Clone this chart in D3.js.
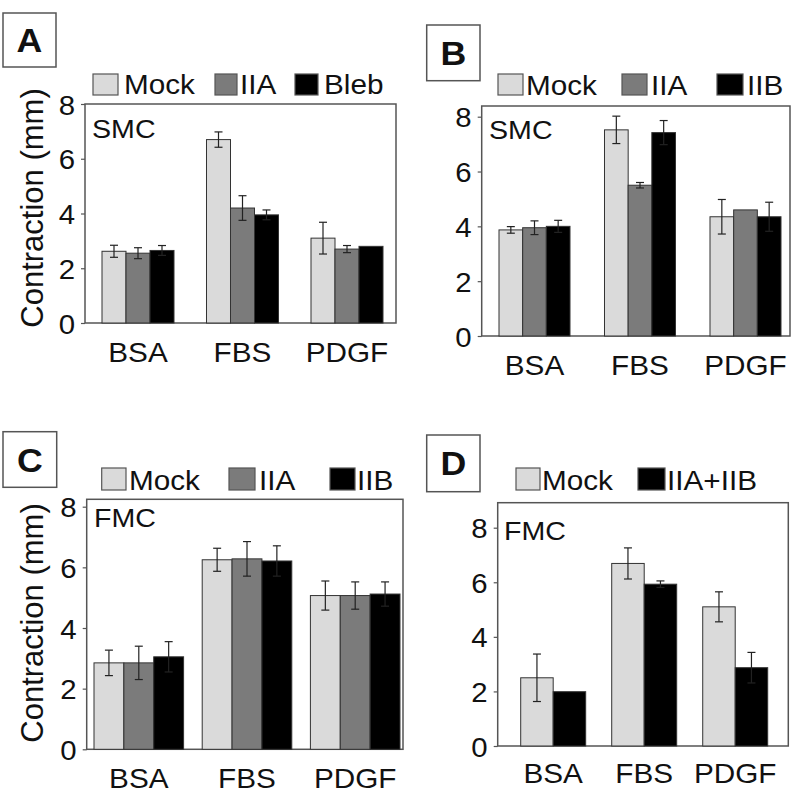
<!DOCTYPE html>
<html><head><meta charset="utf-8">
<script src="https://cdn.jsdelivr.net/npm/d3@7"></script>
<style>body{margin:0;background:#fff}svg{display:block}</style>
</head><body>
<svg id="c" width="800" height="800"></svg>
<script>
// ---- data ----
const categories = ["BSA", "FBS", "PDGF"];
const yTicks = [0, 2, 4, 6, 8];

const seriesA = ["Mock", "IIA", "Bleb"];
const valuesA = [[2.62, 6.7, 3.1], [2.55, 4.2, 2.7], [2.65, 3.95, 2.8]];
const errorsA = [[0.22, 0.28, 0.58], [0.2, 0.45, 0.13], [0.18, 0.18, 0]];

const seriesB = ["Mock", "IIA", "IIB"];
const valuesB = [[3.87, 7.52, 4.35], [3.95, 5.5, 4.6], [4.0, 7.42, 4.35]];
const errorsB = [[0.12, 0.5, 0.63], [0.25, 0.1, 0], [0.22, 0.44, 0.53]];

const seriesC = ["Mock", "IIA", "IIB"];
const valuesC = [[2.85, 6.25, 5.07], [2.85, 6.28, 5.07], [3.05, 6.21, 5.12]];
const errorsC = [[0.42, 0.38, 0.48], [0.55, 0.57, 0.45], [0.5, 0.5, 0.4]];

const seriesD = ["Mock", "IIA+IIB"];
const valuesD = [[2.5, 6.69, 5.1], [1.99, 5.93, 2.87]];
const errorsD = [[0.87, 0.57, 0.55], [0, 0.12, 0.56]];

const cellLabels = ["SMC", "SMC", "FMC", "FMC"];
const panelLetters = ["A", "B", "C", "D"];

// ---- styles ----
const colorOf = {"Mock": "#dadada", "IIA": "#7b7b7b", "Bleb": "#000", "IIB": "#000", "IIA+IIB": "#000"};
const FONT = "'Liberation Sans', Arial, sans-serif";
const SX = 1.1;

// ---- layout (pixels) ----
const layouts = [
  {frame: [85, 104, 396, 323], y0: 323, y8: 104, band: [102, 383], pi: 0.311,
   box: [3, 13, 56, 67], legendY: [74, 95], legendBase: 94, swX: [[93,118],[215,237],[295,318]], txX: [124, 240, 324],
   catBase: 362, ylab: [32, 208], cell: [92, 138]},
  {frame: [481.7, 106, 790, 336], y0: 336, y8: 116.7, band: [499, 781], pi: 0.327,
   box: [426.7, 25, 480, 80.7], legendY: [74, 95], legendBase: 95, swX: [[498,523],[622,647],[717,743]], txX: [526, 651, 747],
   catBase: 375, ylab: null, cell: [489, 139]},
  {frame: [86.7, 499.3, 403, 749.3], y0: 749.3, y8: 506.7, band: [94, 400], pi: 0.172,
   box: [3, 431.7, 56.7, 487.3], legendY: [468, 490], legendBase: 490, swX: [[101.7,126],[229,255],[330,355]], txX: [129, 259, 357],
   catBase: 788, ylab: [32, 623], cell: [94, 527]},
  {frame: [497.7, 502.7, 788.3, 746], y0: 746, y8: 527.7, band: [520.7, 767.7], pi: 0.286,
   box: [426.7, 435, 480, 491.7], legendY: [468, 490], legendBase: 490, swX: [[516,540],[638,665]], txX: [542, 667],
   catBase: 783, ylab: null, cell: [504, 540]}
];

const panels = [
  {series: seriesA, values: valuesA, errors: errorsA},
  {series: seriesB, values: valuesB, errors: errorsB},
  {series: seriesC, values: valuesC, errors: errorsC},
  {series: seriesD, values: valuesD, errors: errorsD}
];

const svg = d3.select("#c");

function txt(g, x, y, s, size, anchor, opts = {}) {
  const t = g.append("text")
    .attr("transform", `translate(${x},${y}) scale(${opts.sx || SX},1)`)
    .attr("text-anchor", anchor || "start")
    .attr("font-family", FONT)
    .attr("font-size", size)
    .attr("fill", "#111")
    .text(s);
  if (opts.bold) t.attr("font-weight", "bold");
  return t;
}

panels.forEach((p, i) => {
  const L = layouts[i];
  const g = svg.append("g");

  // panel letter box
  g.append("rect").attr("x", L.box[0]).attr("y", L.box[1])
    .attr("width", L.box[2] - L.box[0]).attr("height", L.box[3] - L.box[1])
    .attr("fill", "#fff").attr("stroke", "#555").attr("stroke-width", 1.5);
  txt(g, (L.box[0] + L.box[2]) / 2, (L.box[1] + L.box[3]) / 2 + 12, panelLetters[i], 34, "middle", {bold: true, sx: 1.05});

  // scales
  const y = d3.scaleLinear().domain([0, 8]).range([L.y0, L.y8]);
  const x0 = d3.scaleBand().domain(categories).range(L.band).paddingInner(L.pi).paddingOuter(0);
  const x1 = d3.scaleBand().domain(p.series).range([0, x0.bandwidth()]).padding(0);

  // frame
  g.append("rect").attr("x", L.frame[0]).attr("y", L.frame[1])
    .attr("width", L.frame[2] - L.frame[0]).attr("height", L.frame[3] - L.frame[1])
    .attr("fill", "none").attr("stroke", "#555").attr("stroke-width", 1.5);

  // y axis ticks
  const ax = g.append("g").attr("transform", `translate(${L.frame[0]},0)`)
    .call(d3.axisLeft(y).tickValues(yTicks).tickSize(4).tickPadding(6).tickFormat(d3.format("d")));
  ax.select(".domain").remove();
  ax.selectAll(".tick line").attr("stroke", "#555").attr("stroke-width", 1.2);
  ax.selectAll(".tick text").attr("font-family", FONT).attr("font-size", 28).attr("fill", "#111")
    .attr("transform", "scale(1.05,1)").attr("x", -10 / 1.05).attr("dy", "0.36em");

  // bars
  p.series.forEach((s, si) => {
    categories.forEach((c, ci) => {
      const v = p.values[si][ci], e = p.errors[si][ci];
      const bx = x0(c) + x1(s);
      g.append("rect").attr("x", bx).attr("y", y(v))
        .attr("width", x1.bandwidth()).attr("height", y(0) - y(v))
        .attr("fill", colorOf[s]).attr("stroke", "#333").attr("stroke-width", 1);
      if (e > 0) {
        const cx = bx + x1.bandwidth() / 2;
        const ec = "#222";
        g.append("line").attr("x1", cx).attr("x2", cx).attr("y1", y(v - e)).attr("y2", y(v + e))
          .attr("stroke", ec).attr("stroke-width", 1.2);
        [v - e, v + e].forEach(yy => g.append("line").attr("x1", cx - 4).attr("x2", cx + 4)
          .attr("y1", y(yy)).attr("y2", y(yy)).attr("stroke", ec).attr("stroke-width", 1.2));
      }
    });
  });

  // category labels
  categories.forEach(c => txt(g, x0(c) + x0.bandwidth() / 2, L.catBase, c, 27, "middle"));

  // cell label
  txt(g, L.cell[0], L.cell[1], cellLabels[i], 26, "start");

  // legend
  p.series.forEach((s, si) => {
    g.append("rect").attr("x", L.swX[si][0]).attr("y", L.legendY[0])
      .attr("width", L.swX[si][1] - L.swX[si][0]).attr("height", L.legendY[1] - L.legendY[0])
      .attr("fill", colorOf[s]).attr("stroke", "#555").attr("stroke-width", 1.2);
    txt(g, L.txX[si], L.legendBase, s, 27, "start");
  });

  // y label
  if (L.ylab) {
    g.append("text")
      .attr("transform", `translate(${L.ylab[0] + 11},${L.ylab[1]}) rotate(-90)`)
      .attr("text-anchor", "middle").attr("font-family", FONT).attr("font-size", 31)
      .attr("fill", "#111").text("Contraction (mm)");
  }
});
</script>
</body></html>
